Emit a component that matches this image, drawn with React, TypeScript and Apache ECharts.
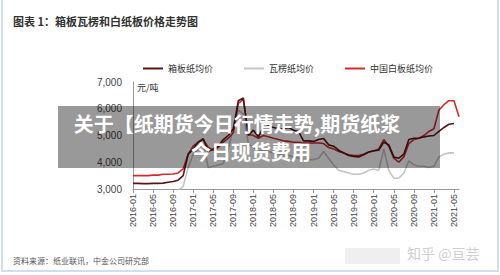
import React, { useEffect, useRef } from "react";
import * as echarts from "echarts";

const months: string[] = [
  "2016-01","2016-02","2016-03","2016-04","2016-05","2016-06","2016-07","2016-08","2016-09","2016-10","2016-11","2016-12",
  "2017-01","2017-02","2017-03","2017-04","2017-05","2017-06","2017-07","2017-08","2017-09","2017-10","2017-11","2017-12",
  "2018-01","2018-02","2018-03","2018-04","2018-05","2018-06","2018-07","2018-08","2018-09","2018-10","2018-11","2018-12",
  "2019-01","2019-02","2019-03","2019-04","2019-05","2019-06","2019-07","2019-08","2019-09","2019-10","2019-11","2019-12",
  "2020-01","2020-02","2020-03","2020-04","2020-05","2020-06","2020-07","2020-08","2020-09","2020-10","2020-11","2020-12",
  "2021-01","2021-02","2021-03","2021-04","2021-05","2021-06",
];

// 箱板纸均价 (元/吨)
const boxboard: (number | null)[] = [
  3210, 3210, 3200, 3200, 3210, 3210, 3220, 3250, 3280, 3330, 3500, 4300,
  4500, 4750, 4880, 4400, 4500, 4600, 4850, 5000, 5250, 6300, 6400, 5000,
  5200, 4950, 5300, 5350, 5300, 5250, 5250, 5300, 5200, 5150, 4800, 4800,
  4780, 4850, 4890, 4650, 4600, 4450, 4350, 4250, 4220, 4200, 4280, 4380,
  4430, 4450, 4750, 4650, 4200, 4150, 4300, 4850, 4900, 4900, 4950, 4980,
  5000, 5150, 5300, 5420, 5450, null,
];

// 瓦楞纸均价 (元/吨)
const corrugated: (number | null)[] = [
  2700, 2700, 2650, 2650, 2700, 2700, 2750, 2850, 2900, 2950, 3100, 3800,
  4300, 4500, 4700, 3800, 3850, 3900, 3950, 4500, 5300, 5950, 5800, 4700,
  4550, 4400, 4450, 4400, 4350, 4300, 4250, 4250, 4200, 4150, 4100, 4100,
  4100, 4150, 4400, 4150, 3900, 3700, 3650, 3600, 3550, 3550, 3600, 3700,
  3750, 3700, 4500, 3700, 3400, 3400, 3600, 4050, 3900, 3850, 3850, 3800,
  3850, 4200, 4300, 4350, 4350, null,
];

// 中国白板纸均价 (元/吨)
const whiteboard: (number | null)[] = [
  3500, 3500, 3500, 3500, 3520, 3520, 3550, 3550, 3560, 3600, 3750, 4300,
  4600, 4750, 4850, 4550, 4450, 4550, 4750, 4900, 5100, 6200, 6350, 5050,
  5000, 4900, 5000, 4950, 4900, 4850, 4800, 4780, 4750, 4750, 4720, 4720,
  4720, 4720, 4700, 4550, 4500, 4400, 4350, 4280, 4250, 4250, 4300, 4380,
  4420, 4500, 4850, 4600, 4150, 4000, 4200, 4700, 4850, 4900, 5000, 5150,
  5250, 5950, 6150, 6300, 6300, 5700,
];

const seriesNames = ["箱板纸均价", "瓦楞纸均价", "中国白板纸均价"];

export default function App() {
  const ref = useRef<HTMLDivElement>(null);

  useEffect(() => {
    if (!ref.current) return;
    const chart = echarts.init(ref.current, undefined, { renderer: "svg" });
    const font = "'Liberation Sans', 'Noto Sans CJK SC', sans-serif";
    const cjk = "'Noto Sans CJK SC', sans-serif";
    chart.setOption({
      animation: false,
      backgroundColor: "#ffffff",
      textStyle: { fontFamily: font },
      grid: { left: 133, right: 41, top: 82, bottom: 86 },
      legend: {
        left: 138,
        top: 59,
        itemGap: 31,
        itemWidth: 20,
        itemHeight: 2,
        icon: "rect",
        textStyle: { fontSize: 9, color: "#333", fontFamily: cjk },
        data: seriesNames,
      },
      xAxis: {
        type: "category",
        data: months,
        boundaryGap: false,
        axisLine: { lineStyle: { color: "#999", width: 1 } },
        axisTick: { show: true, interval: 3, length: 4, lineStyle: { color: "#999" } },
        axisLabel: { interval: 3, rotate: 90, fontSize: 9, color: "#444", margin: 5 },
      },
      yAxis: {
        type: "value",
        min: 3000,
        max: 7000,
        interval: 1000,
        splitLine: { show: false },
        axisLine: { show: true, lineStyle: { color: "#999", width: 1 } },
        axisTick: { show: false },
        axisLabel: {
          fontSize: 10,
          color: "#444",
          margin: 11,
          formatter: (v: number) => v.toLocaleString("en-US"),
        },
      },
      series: [
        {
          name: seriesNames[0],
          type: "line",
          data: boxboard,
          symbol: "none",
          clip: true,
          z: 3,
          lineStyle: { color: "#5a1416", width: 1.6 },
          itemStyle: { color: "#5a1416" },
        },
        {
          name: seriesNames[1],
          type: "line",
          data: corrugated,
          symbol: "none",
          clip: true,
          z: 2,
          lineStyle: { color: "#c4c4c4", width: 1.6 },
          itemStyle: { color: "#c4c4c4" },
        },
        {
          name: seriesNames[2],
          type: "line",
          data: whiteboard,
          symbol: "none",
          clip: true,
          z: 2,
          lineStyle: { color: "#d42a2c", width: 1.6 },
          itemStyle: { color: "#d42a2c" },
        },
      ],
      graphic: [
        {
          type: "rect",
          shape: { x: 2, y: -2, width: 496, height: 273 },
          style: { fill: "none", stroke: "#cddff0", lineWidth: 2 },
          silent: true,
          z: 1,
        },
        {
          type: "text",
          left: 13,
          top: 15,
          style: {
            text: "图表 1：箱板瓦楞和白纸板价格走势图",
            fontSize: 11,
            fontWeight: "bold",
            fill: "#333",
            fontFamily: cjk,
          },
        },
        {
          type: "text",
          left: 137,
          top: 83,
          style: { text: "元/吨", fontSize: 9, fill: "#333", fontFamily: cjk },
        },
        {
          type: "text",
          left: 13,
          top: 256,
          style: {
            text: "资料来源：纸业联讯，中金公司研究部",
            fontSize: 8,
            fill: "#555",
            fontFamily: cjk,
          },
        },
        {
          type: "rect",
          shape: { x: 345, y: 248, width: 55, height: 16 },
          style: { fill: "#efefef" },
          silent: true,
        },
        {
          type: "text",
          left: 407,
          top: 246,
          style: { text: "知乎 @亘芸", fontSize: 14, fill: "#cfcfcf", fontFamily: cjk },
        },
        {
          type: "rect",
          shape: { x: 58, y: 106, width: 382, height: 62 },
          style: { fill: "rgba(0,0,0,0.4)" },
          silent: true,
          z: 100,
        },
        {
          type: "text",
          x: 237,
          y: 123,
          z: 101,
          style: {
            text: "关于【纸期货今日行情走势,期货纸浆",
            fontSize: 20,
            fontWeight: "bold",
            fill: "#ffffff",
            align: "center",
            verticalAlign: "middle",
            fontFamily: cjk,
          },
        },
        {
          type: "text",
          x: 251,
          y: 151,
          z: 101,
          style: {
            text: "今日现货费用",
            fontSize: 20,
            fontWeight: "bold",
            fill: "#ffffff",
            align: "center",
            verticalAlign: "middle",
            fontFamily: cjk,
          },
        },
      ],
    });
    return () => chart.dispose();
  }, []);

  return (
    <div
      ref={ref}
      style={{ position: "fixed", left: 0, top: 0, width: 500, height: 275 }}
    />
  );
}
